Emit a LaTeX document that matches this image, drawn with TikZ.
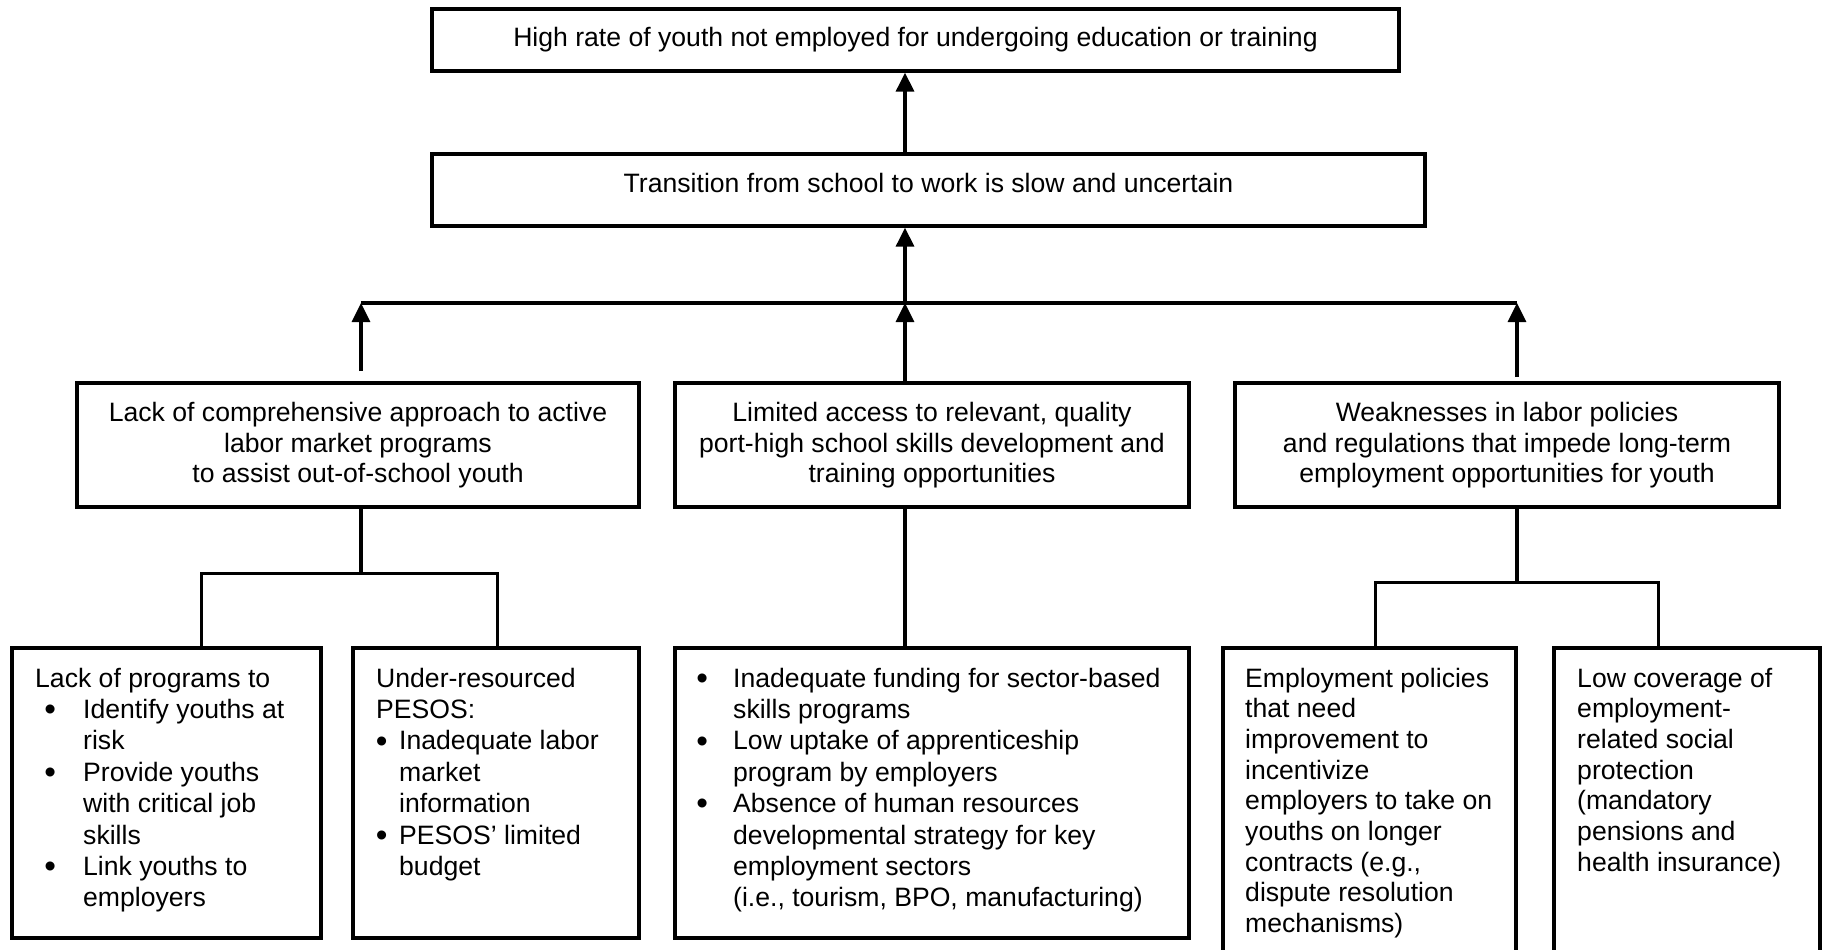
\documentclass[tikz,border=0pt]{standalone}
\usepackage{fontspec}
\setmainfont{Liberation Sans}
\usetikzlibrary{arrows.meta}

% body text size and line spacing
\newcommand\diagfont{\fontsize{26.6}{30.7}\selectfont}
\newcommand\widefont{\fontsize{26.6}{31.4}\selectfont}
% bullet centred in a box of width #1, item text starting at #2
\newcommand\bulitem[2]{\makebox[#2][l]{\makebox[#1][c]{\raisebox{-2.2pt}{\scalebox{1.25}{\textbullet}}}}}
% continuation line of a bullet item
\newcommand\contind[1]{\hspace*{#1}}

\begin{document}
\begin{tikzpicture}[x=1pt, y=-1pt,
  box/.style={draw, line width=3.3pt, inner sep=0pt},
  txt/.style={inner sep=0pt, font=\diagfont},
  wtxt/.style={inner sep=0pt, font=\widefont},
  conn/.style={line width=3.3pt},
  arr/.style={conn, -{Triangle[length=19pt, width=18pt]}}]

\useasboundingbox (0,0) rectangle (1826,950);
\clip (0,0) rectangle (1826,950);
\fill[white] (0,0) rectangle (1826,950);

% ---- boxes ----
\node[box, minimum width=967pt, minimum height=62pt]  (top)   at (915.5,40)  {};
\node[box, minimum width=993pt, minimum height=72pt]  (trans) at (928.5,190) {};
\node[box, minimum width=562pt, minimum height=124pt] (c1)    at (358,445)   {};
\node[box, minimum width=514pt, minimum height=124pt] (c2)    at (932,445)   {};
\node[box, minimum width=544pt, minimum height=124pt] (c3)    at (1507,445)  {};
\node[box, minimum width=309pt, minimum height=290pt] (s1)    at (166.5,793) {};
\node[box, minimum width=286pt, minimum height=290pt] (s2)    at (496,793)   {};
\node[box, minimum width=514pt, minimum height=290pt] (s3)    at (932,793)   {};
\node[box, minimum width=293pt, minimum height=330pt] (s4)    at (1369.5,813) {};
\node[box, minimum width=266pt, minimum height=330pt] (s5)    at (1687,813)  {};

% ---- texts ----
\node[txt, anchor=base] (top-t) at (915.5,47)
  {High rate of youth not employed for undergoing education or training};
\node[txt, anchor=base] (trans-t) at (928.5,192)
  {Transition from school to work is slow and uncertain};

\node[txt, anchor=base] (c1-t) at (358,421.5) {\begin{tabular}[t]{@{}c@{}}
  Lack of comprehensive approach to active\\
  labor market programs\\
  to assist out-of-school youth\end{tabular}};
\node[txt, anchor=base] (c2-t) at (932,421.5) {\begin{tabular}[t]{@{}c@{}}
  Limited access to relevant, quality\\
  port-high school skills development and\\
  training opportunities\end{tabular}};
\node[txt, anchor=base] (c3-t) at (1507,421.5) {\begin{tabular}[t]{@{}c@{}}
  Weaknesses in labor policies\\
  and regulations that impede long-term\\
  employment opportunities for youth\end{tabular}};

\node[wtxt, anchor=base west] (s1-t) at (35,687) {\begin{tabular}[t]{@{}l@{}}
  Lack of programs to\\
  \bulitem{30pt}{48pt}Identify youths at\\
  \contind{48pt}risk\\
  \bulitem{30pt}{48pt}Provide youths\\
  \contind{48pt}with critical job\\
  \contind{48pt}skills\\
  \bulitem{30pt}{48pt}Link youths to\\
  \contind{48pt}employers\end{tabular}};

\node[wtxt, anchor=base west] (s2-t) at (376,687) {\begin{tabular}[t]{@{}l@{}}
  Under-resourced\\
  PESOS:\\
  \bulitem{11pt}{23pt}Inadequate labor\\
  \contind{23pt}market\\
  \contind{23pt}information\\
  \bulitem{11pt}{23pt}PESOS’ limited\\
  \contind{23pt}budget\end{tabular}};

\node[wtxt, anchor=base west] (s3-t) at (690,687) {\begin{tabular}[t]{@{}l@{}}
  \bulitem{24pt}{43pt}Inadequate funding for sector-based\\
  \contind{43pt}skills programs\\
  \bulitem{24pt}{43pt}Low uptake of apprenticeship\\
  \contind{43pt}program by employers\\
  \bulitem{24pt}{43pt}Absence of human resources\\
  \contind{43pt}developmental strategy for key\\
  \contind{43pt}employment sectors\\
  \contind{43pt}(i.e., tourism, BPO, manufacturing)\end{tabular}};

\node[txt, anchor=base west] (s4-t) at (1245,687) {\begin{tabular}[t]{@{}l@{}}
  Employment policies\\
  that need\\
  improvement to\\
  incentivize\\
  employers to take on\\
  youths on longer\\
  contracts (e.g.,\\
  dispute resolution\\
  mechanisms)\end{tabular}};

\node[txt, anchor=base west] (s5-t) at (1577,687) {\begin{tabular}[t]{@{}l@{}}
  Low coverage of\\
  employment-\\
  related social\\
  protection\\
  (mandatory\\
  pensions and\\
  health insurance)\end{tabular}};

% ---- connectors, upper part ----
\coordinate (jm) at (905,303);
\coordinate (jl) at (361,303);
\coordinate (jr) at (1517,303);
\coordinate (ul) at (361,371);
\coordinate (ur) at (1517,377);

\draw[conn] (jl) -- (jr);
\draw[arr] (trans.north -| jm) -- (top.south -| jm);
\draw[arr] (jm) -- (trans.south -| jm);
\draw[arr] (c2.north -| jm) -- (jm);
\draw[arr] (ul) -- (jl);
\draw[arr] (ur) -- (jr);

% ---- connectors, lower part ----
\coordinate (kl)  at (361,573);
\coordinate (kla) at (201,573);
\coordinate (klb) at (497,573);
\draw[conn] (c1.south -| kl) -- (kl);
\draw[line width=3pt] (kla |- s1.north) -- (kla) -- (klb) -- (klb |- s2.north);

\draw[conn] (c2.south -| jm) -- (s3.north -| jm);

\coordinate (kr)  at (1517,582);
\coordinate (kra) at (1375,582);
\coordinate (krb) at (1658,582);
\draw[conn] (c3.south -| kr) -- (kr);
\draw[line width=3pt] (kra |- s4.north) -- (kra) -- (krb) -- (krb |- s5.north);

\end{tikzpicture}
\end{document}
